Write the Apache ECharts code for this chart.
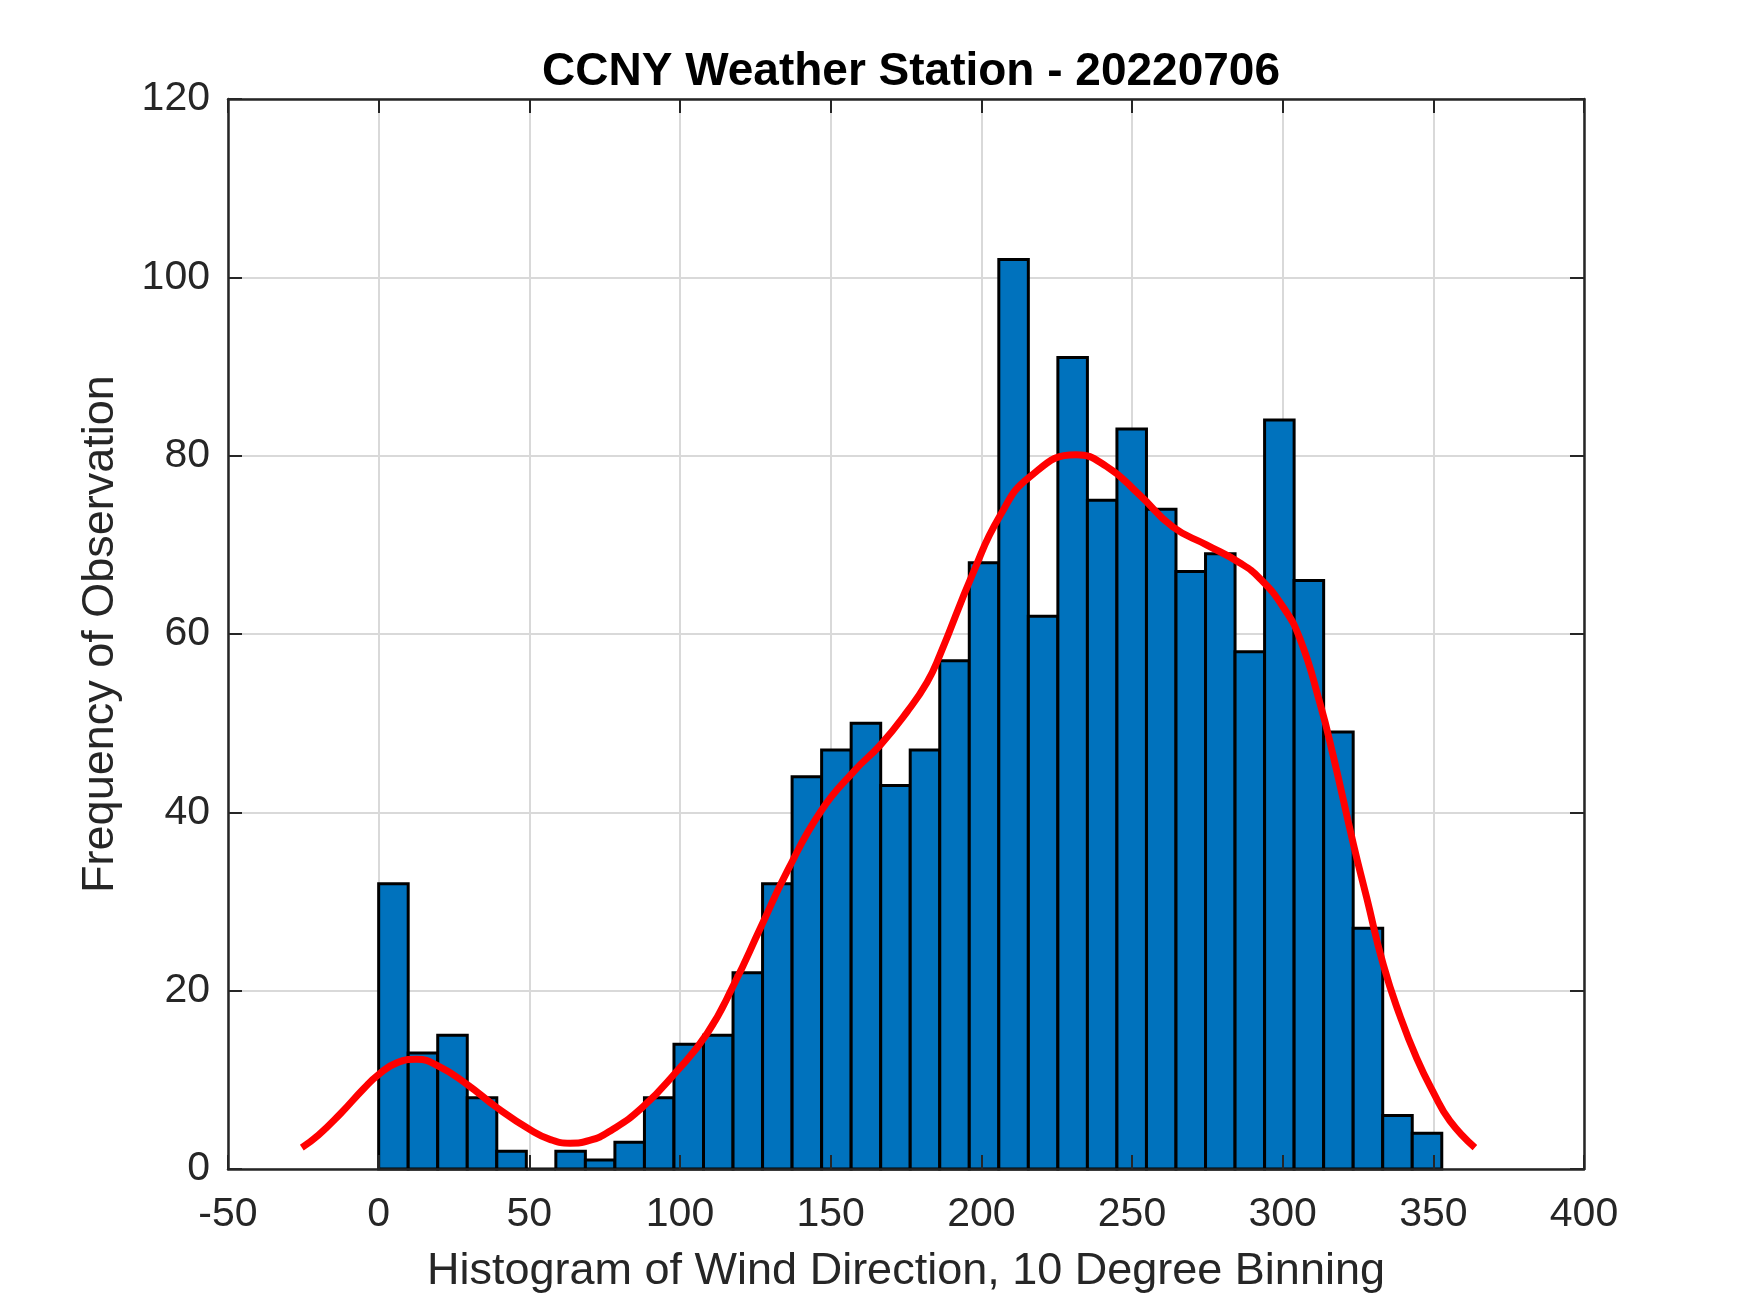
<!DOCTYPE html>
<html>
<head>
<meta charset="utf-8">
<script src="https://cdn.jsdelivr.net/npm/echarts@6/dist/echarts.min.js"></script>
<style>
  html, body { margin: 0; padding: 0; background: #fff; }
  #chart { width: 1750px; height: 1313px; }
</style>
</head>
<body>
<div id="chart"></div>
<script>
// histogram bins (wind direction, deg) and counts
var binEdges = [0, 9.8, 19.6, 29.4, 39.2, 49, 58.8, 68.6, 78.4, 88.2, 98, 107.8,
  117.6, 127.4, 137.2, 147, 156.8, 166.6, 176.4, 186.2, 196, 205.8, 215.6, 225.4,
  235.2, 245, 254.8, 264.6, 274.4, 284.2, 294, 303.8, 313.6, 323.4, 333.2, 343, 352.8];
var counts = [32, 13, 15, 8, 2, 0, 2, 1, 3, 8, 14, 15, 22, 32, 44, 47, 50, 43, 47, 57,
  68, 102, 62, 91, 75, 83, 74, 67, 69, 58, 84, 66, 49, 27, 6, 4];

// fitted density curve
var curveX = [-25.5, -20, -12.7, -5, 0, 6, 12.7, 20, 29.3, 39.2, 50.3, 57, 63.5, 70,
  77, 87.5, 98.5, 109, 117.9, 126.8, 135.6, 146.7, 157.7, 166.6, 175.4, 182, 186.2,
  197.2, 206.1, 216, 231.5, 241.5, 252.5, 263.6, 274.7, 285.7, 292.5, 300.2, 305.8,
  312.4, 316.8, 323.5, 327.9, 333.4, 338.9, 344.5, 350, 355.5, 363.8];
var curveY = [2.4, 3.8, 6.2, 9.0, 10.6, 11.9, 12.3, 11.5, 9.5, 6.9, 4.4, 3.3, 2.9, 3.2,
  4.3, 6.9, 10.8, 15.2, 20.7, 27.1, 33.4, 40.1, 44.6, 47.6, 51.3, 54.6, 57.6,
  66.8, 73.2, 77.6, 80.1, 78.8, 75.6, 72, 70, 68, 66.2, 63, 59.4,
  52.2, 46.3, 36.4, 30.4, 22.9, 17.2, 12.4, 8.6, 5.4, 2.4];

var xTicks = { min: -50, max: 400, interval: 50 };
var yTicks = { min: 0, max: 120, interval: 20 };

var font = 'Arial, "Liberation Sans", Helvetica, sans-serif';
var ink = '#262626';

var barData = counts.map(function (c, i) {
  return [binEdges[i], binEdges[i + 1], c];
});
var curveData = curveX.map(function (x, i) { return [x, curveY[i]]; });

var chart = echarts.init(document.getElementById('chart'));

var gridPos = { left: 228, right: 166, top: 99, bottom: 144 };

function tickAxis(pos, gridIndex, range, showLine) {
  return {
    type: 'value',
    gridIndex: gridIndex,
    position: pos,
    min: range.min, max: range.max, interval: range.interval,
    z: 10,
    axisLine: { show: showLine, onZero: false, lineStyle: { color: ink, width: 2.5 } },
    axisTick: { show: true, inside: true, length: 14, lineStyle: { color: ink, width: 2 } },
    axisLabel: { show: false },
    splitLine: { show: false }
  };
}

var option = {
  backgroundColor: '#fff',
  animation: false,
  title: {
    text: 'CCNY Weather Station - 20220706',
    left: 906,
    textAlign: 'center',
    top: 44,
    textStyle: { color: '#000', fontSize: 46, fontWeight: 'bold', fontFamily: font }
  },
  grid: [
    Object.assign({}, gridPos),
    Object.assign({}, gridPos)
  ],
  xAxis: [
    {
      type: 'value',
      gridIndex: 0,
      position: 'bottom',
      min: xTicks.min, max: xTicks.max, interval: xTicks.interval,
      name: 'Histogram of Wind Direction, 10 Degree Binning',
      nameLocation: 'middle',
      nameGap: 80,
      nameTextStyle: { color: ink, fontSize: 45, fontFamily: font },
      axisLine: { show: false, onZero: false },
      axisTick: { show: false },
      axisLabel: { color: ink, fontSize: 41, fontFamily: font, margin: 25 },
      splitLine: { show: true, lineStyle: { color: '#d9d9d9', width: 2 } }
    },
    tickAxis('bottom', 1, xTicks, true),
    tickAxis('top', 1, xTicks, true)
  ],
  yAxis: [
    {
      type: 'value',
      gridIndex: 0,
      position: 'left',
      min: yTicks.min, max: yTicks.max, interval: yTicks.interval,
      name: 'Frequency of Observation',
      nameLocation: 'middle',
      nameGap: 105,
      nameTextStyle: { color: ink, fontSize: 45, fontFamily: font },
      axisLine: { show: false, onZero: false },
      axisTick: { show: false },
      axisLabel: { color: ink, fontSize: 41, fontFamily: font, margin: 18 },
      splitLine: { show: true, lineStyle: { color: '#d9d9d9', width: 2 } }
    },
    tickAxis('left', 1, yTicks, true),
    tickAxis('right', 1, yTicks, true)
  ],
  series: [
    {
      type: 'custom',
      xAxisIndex: 0,
      yAxisIndex: 0,
      z: 2,
      data: barData,
      encode: { x: [0, 1], y: 2 },
      renderItem: function (params, api) {
        var p0 = api.coord([api.value(0), 0]);
        var p1 = api.coord([api.value(1), api.value(2)]);
        return {
          type: 'rect',
          shape: { x: p0[0], y: p1[1], width: p1[0] - p0[0], height: p0[1] - p1[1] },
          style: { fill: '#0072BD', stroke: '#000', lineWidth: 3 }
        };
      }
    },
    {
      type: 'line',
      xAxisIndex: 0,
      yAxisIndex: 0,
      z: 5,
      data: curveData,
      smooth: true,
      showSymbol: false,
      lineStyle: { color: '#ff0000', width: 7 }
    }
  ]
};

chart.setOption(option);

window.onresize = function () {
  chart.resize();
};
</script>
</body>
</html>
